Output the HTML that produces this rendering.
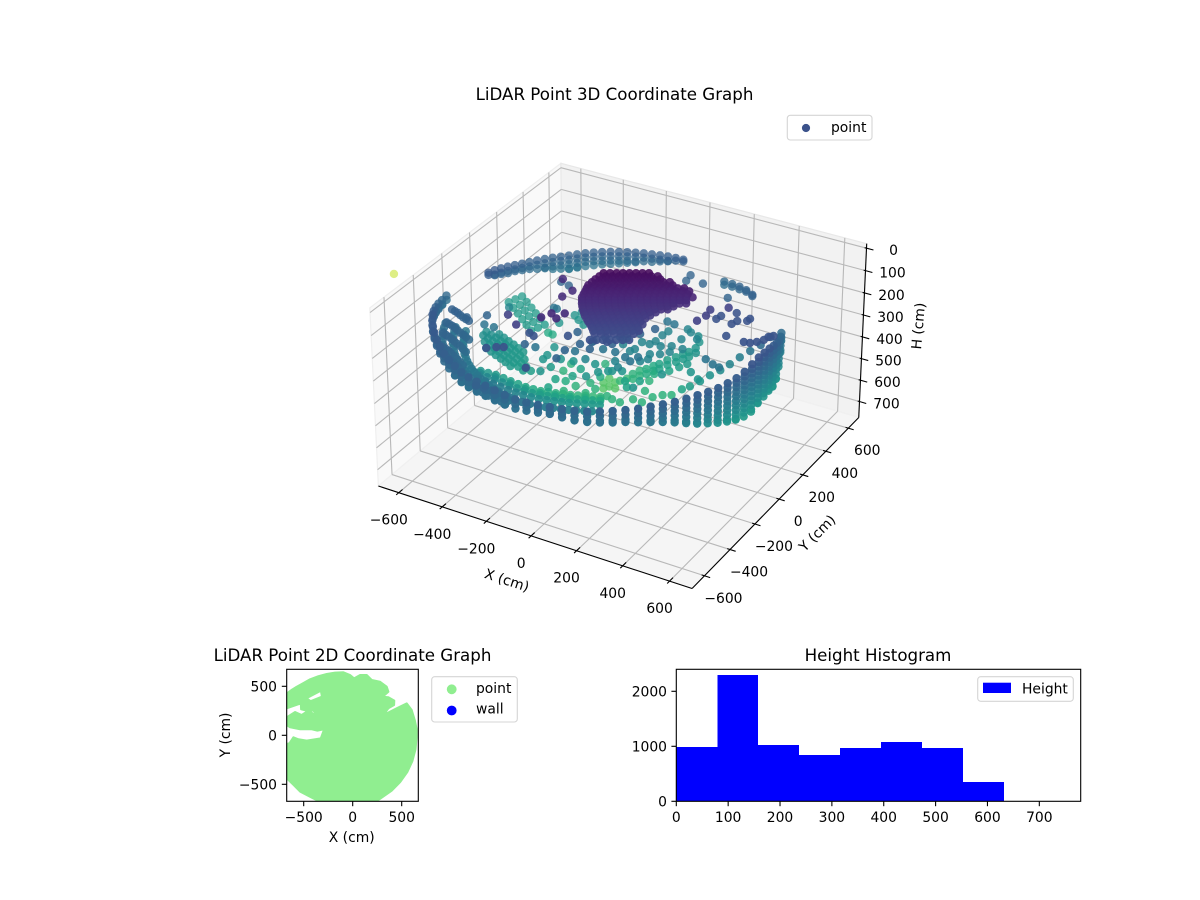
<!DOCTYPE html>
<html lang="en">
<head>
<meta charset="utf-8">
<title>LiDAR Point Graphs</title>
<style>
html,body{margin:0;padding:0;background:#fff;}
svg{display:block;font-family:"DejaVu Sans","Liberation Sans",sans-serif;}
.t{font-size:13.89px;fill:#000;}
.title{font-size:16.67px;fill:#000;text-anchor:middle;}
</style>
</head>
<body>
<svg id="chart" width="1200" height="900" viewBox="0 0 1200 900" xmlns="http://www.w3.org/2000/svg">
<defs>
<clipPath id="clip2d"><rect x="286.7" y="669.3" width="131.6" height="132"/></clipPath>
</defs>
<rect x="0" y="0" width="1200" height="900" fill="#fff"/>

<g id="axes3d"></g>
<g id="points3d"></g>
<text class="title" x="614.5" y="100">LiDAR Point 3D Coordinate Graph</text>
<g>
  <rect x="787.3" y="115.3" width="84.7" height="24.7" rx="3" fill="#fff" stroke="#d5d5d5" stroke-width="1.1"/>
  <circle cx="806" cy="128" r="4.1" fill="#3b528b"/>
  <text class="t" x="831" y="132">point</text>
</g>

<text class="t" text-anchor="middle" transform="translate(507 580) rotate(18)" y="5">X (cm)</text>
<text class="t" text-anchor="middle" transform="translate(817 533) rotate(-45)" y="5">Y (cm)</text>
<text class="t" text-anchor="middle" transform="translate(918 326) rotate(-85)" y="5">H (cm)</text>

<g id="axes2d"></g>
<text class="title" x="352.5" y="661">LiDAR Point 2D Coordinate Graph</text>
<text class="t" text-anchor="middle" x="351.7" y="842">X (cm)</text>
<text class="t" text-anchor="middle" transform="translate(225 735) rotate(-90)" y="5">Y (cm)</text>
<g>
  <rect x="431.7" y="676.7" width="85.6" height="45.3" rx="3" fill="#fff" stroke="#d5d5d5" stroke-width="1.1"/>
  <circle cx="451.7" cy="689.3" r="4.9" fill="#90ee90"/>
  <text class="t" x="476" y="693">point</text>
  <circle cx="451.7" cy="710.5" r="4.9" fill="#0000ff"/>
  <text class="t" x="476" y="713.5">wall</text>
</g>

<g id="axesHist"></g>
<text class="title" x="878" y="661">Height Histogram</text>
<g>
  <rect x="977.7" y="676.7" width="95.6" height="24.6" rx="3" fill="#fff" stroke="#d5d5d5" stroke-width="1.1"/>
  <rect x="983" y="682.7" width="28" height="10.3" fill="#0000ff"/>
  <text class="t" x="1022" y="693.5">Height</text>
</g>
</svg>

<script>
// ---------- 3D axis ticks ----------
const xTicks3d = [-600,-400,-200,0,200,400,600];
const yTicks3d = [-600,-400,-200,0,200,400,600];
const hTicks3d = [0,100,200,300,400,500,600,700];

// ---------- 3D point cloud: outer wall columns (polar, about the room centre) ----------
const wallCenterX = -112;
const wallCenterY = 70;
const wallRadius = 680;
const wallAzimuth = [26,22,18,14,10,6,2,-2,-6,-10,-14,-18,-22,-26,-30,-34,-38,-42,-46,-50,-54,-58,-62,-66,-70,-74,-78,-82,-86,-90,-94,-98,-102,-106,-110,-114,-118,-122,-126,-130,-134,-138,-142,-146,-150,-154,-158,-162,-166,-170];
const wallHTop = [275,265,256,238,225,212,205,202,209,220,227,229,232,232,231,233,235,236,238,241,243,245,247,250,250,249,248,248,250,250,246,242,240,242,244,245,240,238,235,230,225,220,220,220,220,230,240,250,260,265];
const wallHBottom = [310,335,372,400,408,400,400,405,419,418,410,398,385,370,356,340,325,313,305,300,295,295,295,295,292,285,278,282,286,290,288,286,285,286,288,288,282,275,269,260,252,247,243,240,239,255,265,275,282,285];
const columnRowOffsets = [0,20,40,60,80,100,120,140,160,180,200];

// ---------- inner rings on the left side of the bowl ----------
const innerRingCenterX = -86;
const innerRingCenterY = 26;
const innerRingAzimuth = [-158,-155,-152,-149,-146,-143,-140,-137,-134,-131,-128,-125,-122,-119,-116,-113,-110,-107,-104,-101,-98];
const innerRingRadius = [640,600,560];
const innerRingH = [280,295,310];

// ---------- back wall columns ----------
const backCenterX = -60;
const backCenterY = -20;
const backRadius = 650;
const backAzimuth = [58,62,66,70,74,92,95,98,101,104,107,110,113,116,119,122,125,128,131,134,137,140,143,146,149,152,155,158,161,164,167];
const backHTop = [244,245,250,258,265,232,232,233,234,235,235,236,236,237,237,238,239,240,242,244,244,243,242,241,240,238,234,230,226,222,220];
const backHBottom = [250,252,262,270,280,240,245,255,262,270,272,280,285,290,293,295,298,300,303,306,300,295,285,280,272,268,262,260,252,245,230];

// ---------- ceiling cluster rows ----------
const clusterRowH = [20,36,51,67,82,98,114,129,145,160,176,192,28,43,59,74,90,106,121,137,152,168];
const clusterRowX = [-42,-33,-23,-13,-3,7,16,26,36,46,56,66,-38,-28,-18,-8,2,11,21,31,41,51];
const clusterRowY = [77,60,42,26,8,-9,-25,-43,-59,-77,-95,-111,68,51,34,17,0,-17,-34,-51,-68,-86];
const clusterStart = [-77,-108,-135,-147,-159,-159,-155,-147,-135,-120,-110,-128,-92,-121,-141,-153,-159,-157,-151,-141,-127,-115];
const clusterEnd = [112,163,213,271,271,252,174,110,85,65,50,30,137,188,242,271,261,213,140,95,75,60];

// ---------- left-front sheet ----------
const sheetX = [-507,-474,-425,-368,-312,-263,-213,-165,-119,-73,-490,-450,-396,-340,-287,-238,-189,-142,-96,-417,-366,-310,-256,-207,-157,-109,-63,-17,-360,-308,-252,-200,-151,-101,-53,-7,39,-334,-280,-226,-175,-126,-77,-30,16,-285,-233,-177,-125,-76,-26,22,68,114,-391,-338,-283,-231,-182,-133,-86,-40,-259,-205,-151,-100,-51,-2,45,91,-445,-395,-339,-284,-235,-185,-137,-91,-45,-586,-547];
const sheetY = [-345,-286,-254,-237,-218,-186,-156,-125,-87,-50,-315,-270,-245,-227,-202,-171,-140,-106,-68,-384,-355,-338,-316,-283,-253,-222,-184,-147,-482,-457,-439,-414,-381,-351,-320,-282,-245,-470,-448,-426,-398,-366,-335,-301,-263,-611,-586,-568,-543,-510,-480,-449,-411,-374,-370,-346,-327,-300,-268,-238,-203,-166,-598,-577,-555,-527,-495,-465,-430,-392,-335,-305,-288,-267,-235,-205,-174,-136,-98,-324,-335];
const sheetH = [380,400,420,440,460,480,490,500,510,520,390,410,430,450,470,485,495,505,515,350,370,390,410,430,440,450,460,470,300,320,340,360,380,390,400,410,420,310,330,350,370,385,395,405,415,240,260,280,300,320,330,340,350,360,360,380,400,420,435,445,455,465,250,270,290,310,325,335,345,355,375,395,415,435,455,465,475,485,495,360,370];

// ---------- teal arm above the sheet ----------
const armX = [-554,-528,-502,-475,-449,-421,-599,-575,-551,-525,-499,-472,-446,-418,-391,-595,-571,-547,-521,-495,-468,-442,-414,-387,-359,-332,-567,-543,-517,-491,-464,-438,-410,-383,-355,-540,-514,-488,-461,-435,-407];
const armY = [-22,-28,-35,-41,-48,-57,-45,-48,-51,-57,-64,-70,-77,-86,-96,-75,-78,-81,-87,-94,-100,-107,-116,-126,-135,-145,-108,-111,-117,-124,-130,-137,-146,-156,-165,-140,-146,-153,-159,-166,-175];
const armH = [390,395,400,405,410,415,380,385,390,395,400,405,410,415,420,380,385,390,395,400,405,410,415,420,425,430,385,390,395,400,405,410,415,420,425,390,395,400,405,410,415];

// ---------- blue fan strands on the left ----------
const fanX = [-677,-643,-610,-576,-650,-616,-583,-549,-516,-615,-581,-548,-514,-481,-575,-541,-508,-474,-441,-522,-488,-455,-421,-388,-660,-627,-593,-633,-600,-566,-533,-598,-565,-531,-498,-558,-525,-491,-458,-505,-472,-438,-405];
const fanY = [-168,-180,-192,-204,-250,-262,-274,-286,-298,-328,-340,-352,-364,-376,-412,-424,-436,-448,-460,-471,-483,-495,-507,-519,-174,-186,-198,-256,-268,-280,-292,-334,-346,-358,-370,-418,-430,-442,-454,-477,-489,-501,-513];
const fanH = [240,240,245,245,250,250,255,260,265,250,250,255,260,270,250,250,255,265,275,245,250,255,265,280,240,243,245,250,252,258,262,250,252,258,265,250,252,260,270,248,252,260,272];

// ---------- upper teal strand ----------
const tealX = [-676,-636,-595,-555,-516,-476,-665,-625,-584,-544,-505,-465,-687,-647,-606,-566,-527,-487];
const tealY = [296,266,236,205,174,144,330,300,270,239,208,178,262,232,202,171,140,110];
const tealH = [420,420,420,420,420,420,420,420,420,420,420,420,420,420,420,420,420,420];

// ---------- individual interior points ----------
const scatterX = [-543,-603,-517,-561,-597,-380,-312,-281,-255,-212,-194,-158,-393,-379,-296,-431,-389,-226,-216,-150,-465,-442,-404,-382,-349,-370,-312,-141,-124,12,108,177,124,49,44,44,80,1,-65,385,359,367,336,400,402,289,294,330,273,284,276,-321,-140,-313,-311,-136,-169,-81,-56,-60,-8,-167,-200,-285,-284,-234,-188,-98,-74,-31,-104,-121,-203,-226,-160,-156,-125,-120,-97,-137,-68,-53,-34,-23,10,31,60,81,107,128,140,165,155,146,-15,-4,29,50,79,100,126,147,159,184,45,77,17,88,74,133,165,130,4,-55,321,363,395,238,288,149,72,231,177,147,121,102,9,38,-37,-8,30,63,104,465,489,508,524,529,542,263,294,322,354,380,404,440,477,505,-1526];
const scatterY = [-124,-177,-117,-117,123,-227,-277,-232,-244,-256,-210,-234,133,132,44,253,242,-77,-17,-185,204,200,190,274,249,309,225,-178,-16,-143,325,275,244,273,234,180,156,147,145,125,217,248,302,268,288,222,252,245,95,147,196,15,-204,-52,-87,-273,-60,-98,-40,-50,-46,149,-41,82,20,-122,-69,-116,-65,-31,-37,-83,-112,-189,122,161,107,146,106,82,94,122,136,171,167,187,182,209,231,251,277,287,335,343,103,138,134,154,149,176,198,218,244,254,-61,-78,-68,-36,81,134,179,310,86,96,81,60,52,115,81,44,47,57,72,54,21,-99,0,-36,-61,-71,-76,-31,-33,118,123,143,170,199,216,63,87,116,140,169,205,222,237,264,661];
const scatterH = [250,250,300,300,350,150,150,200,200,100,100,100,300,300,100,250,250,100,100,100,470,470,400,400,400,400,400,200,300,200,350,350,350,350,350,350,350,350,350,200,200,200,200,200,200,200,200,150,150,150,150,400,250,400,400,250,250,250,250,300,300,500,400,500,500,450,450,400,400,400,500,500,500,450,570,570,570,570,570,570,520,520,500,500,480,470,450,440,430,420,420,400,400,380,500,500,480,470,450,440,430,420,420,400,300,300,350,300,350,350,350,350,350,350,300,300,300,400,400,400,500,450,500,500,500,400,450,450,500,500,500,500,500,200,200,200,200,200,200,430,410,390,370,350,330,300,270,240,710];

// ---------- further interior points (front-centre and right) ----------
const extraX = [-16,-44,3,-116,59,49,56,120,156,180,68,87,108,117,35,-5,-6,-6,49,80,85,50,-61,-113,-124,-146,-115,-188,-218,-182,-144,-272,-271,-251,-295,-297,-363,-155,-333,-309,-10,-3,66,207];
const extraY = [-33,-39,-12,23,29,122,149,155,170,192,15,44,101,178,148,63,-73,-11,48,111,257,263,-149,-135,-77,-118,-18,-6,-72,-56,-7,-171,-95,-52,-168,-242,-413,-464,-388,-374,559,510,523,470];
const extraH = [350,400,400,480,450,500,480,450,430,420,350,350,350,350,350,350,250,250,250,250,300,300,250,250,350,300,400,450,480,500,500,400,420,400,300,250,200,200,200,200,250,250,250,250];

// ---------- 2D silhouette of the scanned points ----------
const silhouetteX = [-673,-620,-571,-500,-435,-350,-265,-180,-95,-27,14,75,143,194,279,347,364,306,364,425,422,364,313,449,551,602,635,653,652,641,609,557,485,398,296,245,-350,-416,-537,-605,-673,-673,-646,-605,-554,-469,-326,-292,-360,-418,-537,-639,-673,-673,-588,-520,-452,-384,-326,-401,-469,-527,-530,-673];
const silhouetteY = [428,465,496,535,571,603,626,640,643,615,581,615,615,564,547,496,445,394,388,354,309,275,207,275,326,258,150,60,-20,-144,-263,-376,-478,-565,-637,-670,-670,-637,-575,-505,-439,-88,-82,-20,-41,-54,-31,61,48,61,61,82,105,184,238,207,252,207,156,252,252,265,326,275];
const silhouetteGapX = [-452,-333,-326,-428];
const silhouetteGapY = [377,439,401,360];
const ticks2d = [-500,0,500];

// ---------- Histogram ----------
const histEdges = [0,79,158,237,316,395,474,553,632,711,780];
const histCounts = [987,2297,1024,842,969,1078,969,351,0,1];
const histXTicks = [0,100,200,300,400,500,600,700];
const histYTicks = [0,1000,2000];

// ---------- Colormap ----------
const viridisStops = ['#440154','#482475','#414487','#355f8d','#2a788e','#21918c','#22a884','#44bf70','#7ad151','#bddf26','#fde725'];
const heightColorMax = 780;

// ---------- Axis functions ----------
const NS = 'http://www.w3.org/2000/svg';
const xMin3 = -695, xMax3 = 695, yMin3 = -695, yMax3 = 695, hTop3 = -20, hBottom3 = 775;
const dataScale = 0.595 / 695, hScale = 0.000855;
const viewS = 3020, viewCx = 623, viewCy = 337;

function project(x, y, h) {
  const dx = x * dataScale, dy = y * dataScale, dz = -0.446 + hScale * (hBottom3 - h);
  const u = 0.866 * dx + 0.5 * dy;
  const v = -0.25 * dx + 0.433 * dy + 0.866 * dz;
  const w = 0.433 * dx - 0.75 * dy + 0.5 * dz;
  const d = 10 - w;
  return { px: viewCx + viewS * u / d, py: viewCy - viewS * v / d, w: w };
}
function el(tag, attrs, parent) {
  const e = document.createElementNS(NS, tag);
  for (const k in attrs) e.setAttribute(k, attrs[k]);
  parent.appendChild(e);
  return e;
}
function poly(pts) {
  return pts.map(p => { const q = project(p[0], p[1], p[2]); return q.px.toFixed(2) + ',' + q.py.toFixed(2); }).join(' ');
}
function seg(a, b, parent, stroke, sw) {
  const p = project(a[0], a[1], a[2]), q = project(b[0], b[1], b[2]);
  return el('line', { x1: p.px, y1: p.py, x2: q.px, y2: q.py, stroke: stroke, 'stroke-width': sw }, parent);
}
function fmt(v) { return v < 0 ? '\u2212' + Math.abs(v) : String(v); }
function heightColor(h) {
  const t = Math.max(0, Math.min(1, h / heightColorMax)) * (viridisStops.length - 1);
  const i = Math.min(viridisStops.length - 2, Math.floor(t)), f = t - i;
  const a = viridisStops[i], b = viridisStops[i + 1];
  const ch = n => Math.round(parseInt(a.substr(n, 2), 16) * (1 - f) + parseInt(b.substr(n, 2), 16) * f);
  return 'rgb(' + ch(1) + ',' + ch(3) + ',' + ch(5) + ')';
}

// ---------- 3D axes ----------
const g3 = document.getElementById('axes3d');
const leftWall = el('polygon', { points: poly([[xMin3,yMin3,hBottom3],[xMin3,yMax3,hBottom3],[xMin3,yMax3,hTop3],[xMin3,yMin3,hTop3]]), fill: '#f9f9f9', stroke: '#efefef', 'stroke-width': 1.2 }, g3);


const backWall = el('polygon', { points: poly([[xMin3,yMax3,hBottom3],[xMax3,yMax3,hBottom3],[xMax3,yMax3,hTop3],[xMin3,yMax3,hTop3]]), fill: '#f2f2f2', stroke: '#e8e8e8', 'stroke-width': 1.2 }, g3);


const floorPane = el('polygon', { points: poly([[xMin3,yMin3,hBottom3],[xMax3,yMin3,hBottom3],[xMax3,yMax3,hBottom3],[xMin3,yMax3,hBottom3]]), fill: '#f5f5f5', stroke: '#f0f0f0', 'stroke-width': 1.2 }, g3);



const gridColor = '#b8b8b8', gridW = 1.1;
xTicks3d.forEach(v => {
  const a = seg([v,yMin3,hBottom3],[v,yMax3,hBottom3], g3, gridColor, gridW);
  
  
  const b = seg([v,yMax3,hBottom3],[v,yMax3,hTop3], g3, gridColor, gridW);
  
  
});
yTicks3d.forEach(v => {
  const a = seg([xMin3,v,hBottom3],[xMax3,v,hBottom3], g3, gridColor, gridW);
  
  
  const b = seg([xMin3,v,hBottom3],[xMin3,v,hTop3], g3, gridColor, gridW);
  
  
});
hTicks3d.forEach(v => {
  const a = seg([xMin3,yMin3,v],[xMin3,yMax3,v], g3, gridColor, gridW);
  
  
  const b = seg([xMin3,yMax3,v],[xMax3,yMax3,v], g3, gridColor, gridW);
  
  
});

const xAxisLine = seg([xMin3,yMin3,hBottom3],[xMax3,yMin3,hBottom3], g3, '#000', 1.1);


const yAxisLine = seg([xMax3,yMin3,hBottom3],[xMax3,yMax3,hBottom3], g3, '#000', 1.1);


const hAxisLine = seg([xMax3,yMax3,hBottom3],[xMax3,yMax3,hTop3], g3, '#000', 1.1);



xTicks3d.forEach(v => {
  const tick = seg([v,yMin3-18,hBottom3],[v,yMin3+26,hBottom3], g3, '#000', 1.1);
  
  
  const p = project(v, yMin3, hBottom3);
  const label = el('text', { x: p.px - 10, y: p.py + 32, class: 't', 'text-anchor': 'middle' }, g3);
  label.textContent = fmt(v);
  
  
});
yTicks3d.forEach(v => {
  const tick = seg([xMax3-12,v,hBottom3],[xMax3+24,v,hBottom3], g3, '#000', 1.1);
  
  
  const p = project(xMax3, v, hBottom3);
  const label = el('text', { x: p.px + 19, y: p.py + 27, class: 't', 'text-anchor': 'middle' }, g3);
  label.textContent = fmt(v);
  
  
});
hTicks3d.forEach(v => {
  const tick = seg([xMax3-8,yMax3,v],[xMax3+30,yMax3,v], g3, '#000', 1.1);
  
  
  const p = project(xMax3, yMax3, v);
  const label = el('text', { x: p.px + 27, y: p.py + 7, class: 't', 'text-anchor': 'middle' }, g3);
  label.textContent = fmt(v);
  
  
});

// ---------- 3D point cloud ----------
const cloud = [];
function addColumn(cx, cy, az, radius, top, bottom) {
  const rad = az * Math.PI / 180;
  const x = cx + radius * Math.cos(rad), y = cy + radius * Math.sin(rad);
  columnRowOffsets.forEach(o => { if (top + o < bottom) cloud.push([x, y, top + o]); });
  cloud.push([x, y, bottom]);
}
wallAzimuth.forEach((a, i) => addColumn(wallCenterX, wallCenterY, a, wallRadius, wallHTop[i], wallHBottom[i]));
backAzimuth.forEach((a, i) => addColumn(backCenterX, backCenterY, a, backRadius, backHTop[i], backHBottom[i]));
innerRingRadius.forEach((r, k) => {
  innerRingAzimuth.forEach(a => {
    const rad = a * Math.PI / 180;
    cloud.push([innerRingCenterX + r * Math.cos(rad), innerRingCenterY + r * Math.sin(rad), innerRingH[k]]);
  });
});
clusterRowH.forEach((h, i) => {
  for (let s = clusterStart[i]; s <= clusterEnd[i]; s += 25) {
    cloud.push([clusterRowX[i] + s * 0.866, clusterRowY[i] + s * 0.5, h]);
  }
});
function addList(xs, ys, hs) { xs.forEach((x, i) => cloud.push([x, ys[i], hs[i]])); }
addList(sheetX, sheetY, sheetH);
addList(armX, armY, armH);
addList(fanX, fanY, fanH);
addList(tealX, tealY, tealH);
addList(scatterX, scatterY, scatterH);
addList(extraX, extraY, extraH);

const projected = cloud.map(p => { const q = project(p[0], p[1], p[2]); q.h = p[2]; return q; });
projected.sort((a, b) => a.w - b.w);
const wLo = projected[0].w, wHi = projected[projected.length - 1].w;
const gp = document.getElementById('points3d');
projected.forEach(q => {
  const norm = (q.w - wLo) / (wHi - wLo);
  const c = el('circle', { cx: q.px.toFixed(2), cy: q.py.toFixed(2), r: 4.2, fill: heightColor(q.h), 'fill-opacity': (0.56 + 0.44 * norm).toFixed(3) }, gp);
  
  
});

// ---------- 2D scatter ----------
const g2 = document.getElementById('axes2d');
const x2d = v => 352.7 + v * 49 / 500;
const y2d = v => 735.3 - v * 49 / 500;
const silPts = silhouetteX.map((x, i) => x2d(x).toFixed(1) + ',' + y2d(silhouetteY[i]).toFixed(1)).join(' ');
const silShape = el('polygon', { points: silPts, fill: '#90ee90', stroke: '#90ee90', 'stroke-width': 2, 'stroke-linejoin': 'round', 'clip-path': 'url(#clip2d)' }, g2);


const gapPts = silhouetteGapX.map((x, i) => x2d(x).toFixed(1) + ',' + y2d(silhouetteGapY[i]).toFixed(1)).join(' ');
const gapShape = el('polygon', { points: gapPts, fill: '#fff' }, g2);


const frame2d = el('rect', { x: 286.7, y: 669.3, width: 131.6, height: 132, fill: 'none', stroke: '#000', 'stroke-width': 1.1 }, g2);


ticks2d.forEach(v => {
  const tx = el('line', { x1: x2d(v), x2: x2d(v), y1: 801.3, y2: 806.2, stroke: '#000', 'stroke-width': 1.1 }, g2);
  
  
  const lx = el('text', { x: x2d(v), y: 822, class: 't', 'text-anchor': 'middle' }, g2);
  lx.textContent = fmt(v);
  
  
  const ty = el('line', { x1: 281.8, x2: 286.7, y1: y2d(v), y2: y2d(v), stroke: '#000', 'stroke-width': 1.1 }, g2);
  
  
  const ly = el('text', { x: 277, y: y2d(v) + 5, class: 't', 'text-anchor': 'end' }, g2);
  ly.textContent = fmt(v);
  
  
});

// ---------- Histogram ----------
const gh = document.getElementById('axesHist');
const xHist = v => 676.3 + v * 0.5186;
const yHist = v => 801.3 - v * 0.055;
histCounts.forEach((c, i) => {
  const bar = el('rect', { x: xHist(histEdges[i]), y: yHist(c), width: xHist(histEdges[i + 1]) - xHist(histEdges[i]), height: 801.3 - yHist(c), fill: '#0000ff', 'shape-rendering': 'crispEdges' }, gh);
  
  
});
const frameH = el('rect', { x: 676.3, y: 669.3, width: 404.4, height: 132, fill: 'none', stroke: '#000', 'stroke-width': 1.1 }, gh);


histXTicks.forEach(v => {
  const t = el('line', { x1: xHist(v), x2: xHist(v), y1: 801.3, y2: 806.2, stroke: '#000', 'stroke-width': 1.1 }, gh);
  
  
  const l = el('text', { x: xHist(v), y: 822, class: 't', 'text-anchor': 'middle' }, gh);
  l.textContent = fmt(v);
  
  
});
histYTicks.forEach(v => {
  const t = el('line', { x1: 671.4, x2: 676.3, y1: yHist(v), y2: yHist(v), stroke: '#000', 'stroke-width': 1.1 }, gh);
  
  
  const l = el('text', { x: 667, y: yHist(v) + 5, class: 't', 'text-anchor': 'end' }, gh);
  l.textContent = fmt(v);
  
  
});
</script>
</body>
</html>
